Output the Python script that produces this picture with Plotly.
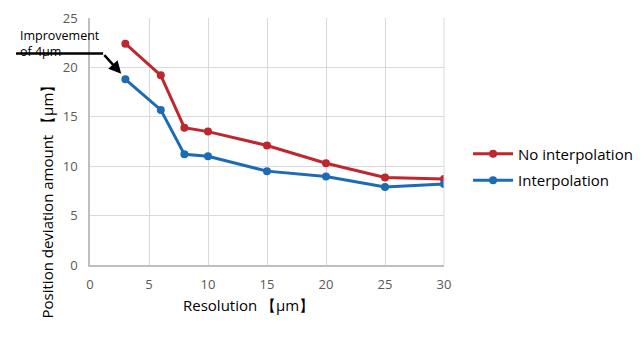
import plotly.graph_objects as go

resolution = [3, 6, 8, 10, 15, 20, 25, 30]
no_interp = [22.4, 19.2, 13.9, 13.5, 12.1, 10.3, 8.85, 8.7]
interp = [18.8, 15.7, 11.2, 11.0, 9.5, 8.95, 7.9, 8.2]
x_ticks = [0, 5, 10, 15, 20, 25, 30]
y_ticks = [0, 5, 10, 15, 20, 25]

RED = "#C0262D"
BLUE = "#1C6BB5"
FONT = "Open Sans, Noto Sans, sans-serif"

fig = go.Figure()
fig.add_trace(go.Scatter(
    x=resolution, y=no_interp, name="No interpolation", legendgroup="a",
    mode="lines+markers", line=dict(color=RED, width=3),
    marker=dict(color=RED, size=8),
))
fig.add_trace(go.Scatter(
    x=resolution, y=interp, name="Interpolation", legendgroup="b",
    mode="lines+markers", line=dict(color=BLUE, width=3),
    marker=dict(color=BLUE, size=8),
))

# Callout: horizontal leader line, then arrow down to the first interpolated point
fig.add_shape(type="line", xref="paper", yref="y",
              x0=-0.209, x1=0.037, y0=21.4, y1=21.4,
              line=dict(color="black", width=2.5))
fig.add_annotation(x=resolution[0] - 0.35, y=interp[0] + 0.55, xref="x", yref="y",
                   ax=1.1, ay=21.4, axref="x", ayref="y",
                   showarrow=True, arrowhead=2, arrowsize=1, arrowwidth=2.5,
                   arrowcolor="black", text="")
fig.add_annotation(x=-0.2, y=0.968, xref="paper", yref="paper",
                   xanchor="left", yanchor="top", showarrow=False, align="left",
                   borderpad=0, text="Improvement<br>of 4μm",
                   font=dict(family=FONT, size=12.5, color="black"))

# Axis titles
fig.add_annotation(x=-0.121, y=0.27, xref="paper", yref="paper", textangle=-90,
                   xanchor="center", yanchor="middle",
                   showarrow=False, text="Position deviation amount 【μm】",
                   font=dict(family=FONT, size=15, color="black"))
fig.add_annotation(x=0.449, y=-0.162, xref="paper", yref="paper",
                   xanchor="center", yanchor="middle",
                   showarrow=False, text="Resolution 【μm】",
                   font=dict(family=FONT, size=15, color="black"))

fig.update_layout(
    width=642, height=346,
    margin=dict(l=90, r=198, t=18, b=81, autoexpand=False),
    paper_bgcolor="white", plot_bgcolor="white",
    font=dict(family=FONT, color="#595959"),
    showlegend=True,
    legend=dict(x=1.068, y=0.397, xanchor="left", yanchor="middle",
                font=dict(family=FONT, size=15, color="black"),
                itemwidth=40, tracegroupgap=4),
)
fig.update_xaxes(
    range=[0, 30], tickvals=x_ticks, showgrid=True, gridcolor="#D9D9D9",
    showline=True, linecolor="#BFBFBF", linewidth=1.5, zeroline=False,
    tickfont=dict(size=13, color="#595959"), ticks="", ticklabelstandoff=7,
)
fig.update_yaxes(
    range=[0, 25], tickvals=y_ticks, showgrid=True, gridcolor="#D9D9D9",
    showline=True, linecolor="#BFBFBF", linewidth=1.5, zeroline=False,
    tickfont=dict(size=13, color="#595959"), ticks="", ticklabelstandoff=8,
)
# right frame line
fig.add_shape(type="line", xref="paper", yref="paper", x0=1, x1=1, y0=0, y1=1,
              line=dict(color="#D9D9D9", width=1))

fig.write_html("out.html")
